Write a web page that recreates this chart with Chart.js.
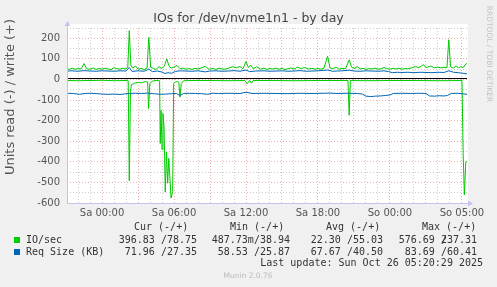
<!DOCTYPE html>
<html>
<head>
<meta charset="utf-8">
<script src="https://cdn.jsdelivr.net/npm/chart.js"></script>
<style>
  html, body { margin: 0; padding: 0; background: #f0f0f0; }
  canvas { display: block; }
</style>
</head>
<body>
<canvas id="chart" width="497" height="287"></canvas>
<script>
  // hours relative to Sa 00:00 (real elapsed time, DST switch on Sunday)
  const tickHours = [0, 6, 12, 18, 24, 30];
  const tickLabels = ['Sa 00:00', 'Sa 06:00', 'Sa 12:00', 'Sa 18:00', 'So 00:00', 'So 05:00'];
  const yLabels = [-600, -500, -400, -300, -200, -100, 0, 100, 200];

  // IO/sec, write (+)
  const ioWriteHours = [-2.92,-2.7,-2.5,-2.25,-2.0,-1.75,-1.5,-1.3,-1.0,-0.75,
    -0.5,-0.25,0.0,0.25,0.5,0.75,1.0,1.25,1.5,1.75,
    2.0,2.15,2.27,2.4,2.55,2.8,3.0,3.25,3.5,3.75,
    3.9,4.05,4.3,4.5,4.75,5.0,5.2,5.4,5.55,5.75,
    6.0,6.25,6.5,6.75,7.0,7.25,7.5,7.75,8.0,8.25,
    8.6,8.9,9.25,9.5,9.75,10.0,10.25,10.5,10.9,11.2,
    11.5,11.75,12.0,12.2,12.4,12.6,12.9,13.2,13.5,13.75,
    14.0,14.25,14.5,14.75,15.0,15.25,15.5,15.75,16.0,16.3,
    16.6,16.9,17.2,17.5,17.75,18.0,18.25,18.5,18.8,19.0,
    19.25,19.5,19.75,20.0,20.3,20.6,20.8,21.0,21.3,21.5,
    21.75,22.0,22.25,22.5,22.75,23.0,23.25,23.5,23.75,24.0,
    24.25,24.5,24.75,25.0,25.25,25.5,25.8,26.1,26.4,26.8,
    27.0,27.4,27.7,28.0,28.25,28.5,28.75,28.9,29.05,29.3,
    29.5,29.7,29.9,30.1,30.25,30.42];
  const ioWriteValues = [52,49,55,50,53,51,77,52,50,56,
    49,53,50,55,51,48,57,52,50,54,
    51,60,237,70,55,65,50,54,48,55,
    205,60,52,49,62,53,66,100,70,55,
    60,68,52,55,50,53,49,54,51,55,
    64,50,53,49,55,51,50,54,62,57,
    63,52,87,58,70,52,62,50,55,49,
    53,51,55,50,54,48,52,56,50,60,
    53,58,51,54,50,53,50,55,113,56,
    52,60,50,54,52,95,60,53,62,51,
    54,49,53,51,55,50,52,58,53,50,
    54,51,55,50,53,52,56,63,57,72,
    58,65,57,60,56,59,57,193,62,55,
    66,57,62,58,70,79];

  // IO/sec, read (-)
  const ioReadHours = [-2.92,-2.0,-1.0,0.0,1.0,2.0,2.18,2.27,2.37,2.45,
    2.7,3.0,3.3,3.6,3.8,3.88,3.98,4.2,4.5,4.8,
    4.85,4.92,5.0,5.08,5.17,5.27,5.37,5.47,5.56,5.65,
    5.75,5.89,5.97,6.1,6.3,6.4,6.5,6.6,6.8,7.5,
    9.0,10.5,11.9,12.1,12.3,12.45,12.6,14.0,16.0,18.0,
    20.5,20.6,20.7,22.0,24.0,26.0,28.0,30.0,30.1,30.2,
    30.32,30.42];
  const ioReadValues = [-5,-6,-5,-4,-6,-5,-6,-492,-60,-25,
    -18,-15,-16,-10,-12,-141,-20,-8,-5,-6,
    -311,-150,-340,-165,-230,-547,-352,-504,-383,-470,
    -576,-545,-20,-12,-10,-15,-86,-20,-6,-5,
    -5,-6,-5,-21,-4,-18,-5,-5,-6,-5,
    -5,-174,-5,-6,-5,-5,-6,-5,-360,-561,
    -400,-397];

  // Req Size (KB), write (+)
  const reqWriteHours = [-2.92,-2.5,-2.0,-1.5,-1.0,-0.5,0.0,0.5,1.0,1.5,
    2.0,2.27,2.5,3.0,3.5,3.9,4.2,4.6,5.0,5.25,
    5.5,5.8,6.1,6.5,7.0,7.5,8.0,8.6,9.0,9.5,
    10.0,10.5,11.0,11.5,12.0,12.3,12.8,13.5,14.0,14.5,
    15.0,15.5,16.0,16.5,17.0,17.5,18.0,18.8,19.2,19.6,
    20.0,20.6,21.0,21.5,22.0,22.5,23.0,23.5,23.9,24.2,
    24.6,25.0,25.5,26.0,26.5,27.0,27.5,28.0,28.5,28.9,
    29.3,29.7,30.1,30.42];
  const reqWriteValues = [41,42,40,43,41,40,42,41,40,42,
    41,58,39,42,40,50,38,41,36,29,
    33,30,39,42,41,40,42,37,41,42,
    40,41,43,40,46,38,41,42,40,41,
    42,40,41,43,40,41,42,46,40,41,
    42,45,41,40,42,41,40,42,38,33,
    35,34,35,33,35,34,33,35,34,42,
    35,33,30,27];

  // Req Size (KB), read (-)
  const reqReadHours = [-2.92,-2.4,-1.9,-1.4,-0.9,-0.4,0.0,0.5,1.0,1.5,
    1.9,2.3,2.8,3.3,3.8,4.3,4.8,5.3,5.8,6.2,
    6.5,6.8,7.3,7.8,8.3,8.8,9.2,9.7,10.5,11.5,
    12.0,12.5,13.5,14.5,15.5,16.5,17.5,18.5,19.0,19.5,
    20.5,21.3,21.7,22.0,22.4,22.8,23.2,23.6,24.0,24.3,
    25.0,25.7,26.4,27.0,27.3,27.7,28.1,28.5,28.8,29.1,
    29.6,30.0,30.42];
  const reqReadValues = [-67,-68,-72,-68,-67,-69,-71,-72,-71,-73,
    -70,-68,-67,-68,-66,-69,-72,-71,-69,-68,
    -78,-68,-67,-68,-69,-72,-67,-68,-67,-68,
    -62,-68,-67,-68,-69,-67,-68,-67,-66,-68,
    -67,-68,-71,-81,-83,-81,-80,-78,-75,-68,
    -67,-68,-67,-68,-80,-81,-79,-80,-78,-68,
    -67,-69,-72];

  const legendRows = [
    { name: 'IO/sec', color: '#00cc00', cur: '396.83 /78.75', min: '487.73m/38.94', avg: '22.30 /55.03', max: '576.69 237.31' },
    { name: 'Req Size (KB)', color: '#0066b3', cur: '71.96 /27.35', min: '58.53 /25.87', avg: '67.67 /40.50', max: '83.69 /60.41' }
  ];

  const GREEN = '#00cc00';
  const BLUE = '#0066b3';
  const MAJOR = 'rgba(225,120,120,0.6)';
  const MINOR = 'rgba(190,190,190,0.75)';
  const AXIS = '#c4c4ee';

  const xGrid = [];
  for (let h = -2; h <= 30; h++) xGrid.push(h);
  const yGrid = [];
  for (let v = -600; v <= 250; v += 50) yGrid.push(v);

  function pts(hours, vals) {
    return hours.map((h, i) => ({ x: h, y: vals[i] }));
  }

  function line(data, color, order) {
    return { data, borderColor: color, borderWidth: 1, pointRadius: 0, tension: 0, fill: false, order };
  }

  const decor = {
    id: 'decor',
    beforeDraw(chart) {
      const { ctx, chartArea: a } = chart;
      ctx.save();
      ctx.fillStyle = '#f0f0f0';
      ctx.fillRect(0, 0, chart.width, chart.height);
      ctx.fillStyle = '#ffffff';
      ctx.fillRect(a.left, a.top - 4, a.right - a.left + 1, a.bottom - a.top + 4);
      ctx.restore();
    },
    afterDraw(chart) {
      const { ctx, chartArea: a } = chart;
      const y0 = chart.scales.y.getPixelForValue(0);
      ctx.save();
      // zero line
      ctx.strokeStyle = '#000';
      ctx.lineWidth = 1;
      ctx.beginPath();
      ctx.moveTo(a.left, Math.round(y0) - 0.5);
      ctx.lineTo(a.right, Math.round(y0) - 0.5);
      ctx.stroke();
      // axes with arrows
      ctx.strokeStyle = AXIS;
      ctx.fillStyle = AXIS;
      ctx.beginPath();
      ctx.moveTo(a.left + 0.5, a.bottom);
      ctx.lineTo(a.left + 0.5, a.top - 4);
      ctx.moveTo(a.left, a.bottom + 0.5);
      ctx.lineTo(a.right + 3, a.bottom + 0.5);
      ctx.stroke();
      ctx.beginPath();
      ctx.moveTo(a.left + 0.5, a.top - 7);
      ctx.lineTo(a.left - 2.5, a.top - 2);
      ctx.lineTo(a.left + 3.5, a.top - 2);
      ctx.closePath();
      ctx.fill();
      ctx.beginPath();
      ctx.moveTo(a.right + 6, a.bottom + 0.5);
      ctx.lineTo(a.right + 1, a.bottom - 2.5);
      ctx.lineTo(a.right + 1, a.bottom + 3.5);
      ctx.closePath();
      ctx.fill();

      // title
      ctx.fillStyle = '#444';
      ctx.textBaseline = 'middle';
      ctx.textAlign = 'center';
      ctx.font = '12.5px "DejaVu Sans"';
      ctx.fillText('IOs for /dev/nvme1n1 - by day', 248.5, 19);

      // y axis title
      ctx.save();
      ctx.translate(11, 97);
      ctx.rotate(-Math.PI / 2);
      ctx.font = '13px "DejaVu Sans"';
      ctx.fillStyle = '#555';
      ctx.fillText('Units read (-) / write (+)', 0, 0);
      ctx.restore();

      // rrdtool credit
      ctx.save();
      ctx.translate(489, 54);
      ctx.rotate(Math.PI / 2);
      ctx.font = '7.5px "DejaVu Sans"';
      ctx.fillStyle = '#c2c2c2';
      ctx.fillText('RRDTOOL / TOBI OETIKER', 0, 0);
      ctx.restore();

      // legend
      ctx.font = '10px "DejaVu Sans Mono"';
      ctx.fillStyle = '#333';
      ctx.textAlign = 'left';
      ctx.fillText('Cur (-/+)', 134, 227);
      ctx.fillText('Min (-/+)', 230, 227);
      ctx.fillText('Avg (-/+)', 326, 227);
      ctx.fillText('Max (-/+)', 422, 227);
      legendRows.forEach((r, i) => {
        const y = 240 + i * 12;
        ctx.fillStyle = r.color;
        ctx.fillRect(14, y - 3, 6, 6);
        ctx.fillStyle = '#333';
        ctx.textAlign = 'left';
        ctx.fillText(r.name, 26, y);
        ctx.textAlign = 'right';
        ctx.fillText(r.cur, 197, y);
        ctx.fillText(r.min, 290, y);
        ctx.fillText(r.avg, 383, y);
        ctx.fillText(r.max, 477, y);
      });
      // overlapping slash in the Max column, as in the original
      ctx.textAlign = 'left';
      ctx.fillText('/', 441, 240);
      ctx.textAlign = 'right';
      ctx.fillText('Last update: Sun Oct 26 05:20:29 2025', 483, 263);

      ctx.textAlign = 'center';
      ctx.font = '7.5px "DejaVu Sans"';
      ctx.fillStyle = '#bbb';
      ctx.fillText('Munin 2.0.76', 248, 276);
      ctx.restore();
    }
  };

  new Chart(document.getElementById('chart'), {
    type: 'line',
    data: {
      datasets: [
        line(pts(ioWriteHours, ioWriteValues), GREEN, 2),
        line(pts(ioReadHours, ioReadValues), GREEN, 2),
        line(pts(reqWriteHours, reqWriteValues), BLUE, 1),
        line(pts(reqReadHours, reqReadValues), BLUE, 1)
      ]
    },
    options: {
      responsive: false,
      animation: false,
      devicePixelRatio: 1,
      layout: { padding: { top: 28, left: 0, right: 30, bottom: 60 } },
      plugins: { legend: { display: false }, tooltip: { enabled: false } },
      scales: {
        x: {
          type: 'linear',
          min: -2.92,
          max: 30.42,
          afterFit(s) { s.height = 24; },
          afterBuildTicks(s) { s.ticks = xGrid.map(v => ({ value: v })); },
          ticks: {
            autoSkip: false,
            maxRotation: 0,
            padding: 4,
            color: '#555',
            font: { family: 'DejaVu Sans', size: 10 },
            callback: v => {
              const i = tickHours.indexOf(v);
              return i >= 0 ? tickLabels[i] : '';
            }
          },
          grid: { color: c => (c.tick && c.tick.value % 3 === 0) ? MAJOR : MINOR, drawTicks: false, lineWidth: 1 },
          border: { display: false, dash: [1, 2] }
        },
        y: {
          min: -600,
          max: 250,
          afterFit(s) { s.width = 67; },
          afterBuildTicks(s) { s.ticks = yGrid.map(v => ({ value: v })); },
          ticks: {
            autoSkip: false,
            padding: 7,
            color: '#555',
            font: { family: 'DejaVu Sans', size: 10 },
            callback: v => yLabels.includes(v) ? String(v) : ''
          },
          grid: { color: c => (c.tick && c.tick.value % 100 === 0) ? MAJOR : MINOR, drawTicks: false, lineWidth: 1 },
          border: { display: false, dash: [1, 2] }
        }
      }
    },
    plugins: [decor]
  });
</script>
</body>
</html>
